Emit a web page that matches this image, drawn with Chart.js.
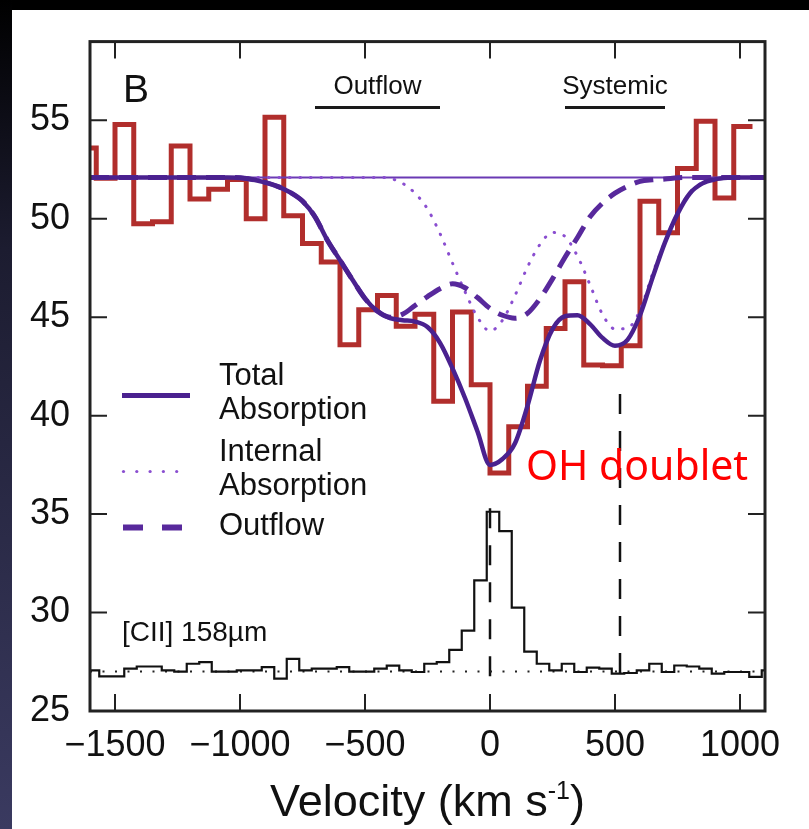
<!DOCTYPE html>
<html lang="en">
<head>
<meta charset="UTF-8" />
<title>OH doublet</title>
<script src="https://cdn.jsdelivr.net/npm/chart.js@4"></script>
<style>
  html, body { margin: 0; padding: 0; background: #fff; }
  .quadro { position: relative; width: 809px; height: 829px; overflow: hidden; background: #fff; }
  .topo { position: absolute; left: 0; top: 0; width: 809px; height: 10px; background: #000; }
  .lado { position: absolute; left: 0; top: 0; width: 12px; height: 829px; background: linear-gradient(#000, #1c1c30 30%, #3a3a60); }
  canvas { position: absolute; left: 0; top: 0; }
</style>
</head>
<body>
<div class="quadro">
  <canvas id="grafico" width="809" height="829"></canvas>
  <div class="topo"></div>
  <div class="lado"></div>
</div>
<script>
// OH absorption histogram (75 km/s bins, first bin starts at -1650)
const redStart = -1650;
const redWidth = 75;
const redValues = [53.6, 52.06, 54.79, 49.75, 49.85, 53.7, 51.0, 51.5, 52.0, 50.0,
  55.16, 50.15, 48.75, 47.8, 43.6, 45.38, 46.1, 44.54, 45.15, 40.73,
  45.27, 41.57, 37.09, 39.44, 41.5, 44.43, 46.8, 42.58, 42.53, 43.55,
  50.89, 49.29, 52.56, 54.96, 51.05, 54.69];

// [CII] spectrum (50 km/s bins, first bin starts at -1613)
const ciiStart = -1613;
const ciiWidth = 50;
const ciiValues = [27.06, 26.76, 26.76, 27.15, 27.26, 27.26, 27.06, 27.0, 27.4, 27.48,
  27.0, 27.0, 27.06, 27.06, 27.23, 26.64, 27.65, 27.06, 27.15, 27.15,
  27.23, 27.0, 27.0, 27.15, 27.3, 27.06, 26.98, 27.4, 27.48, 28.1,
  29.08, 31.63, 35.12, 34.14, 30.25, 28.02, 27.4, 27.06, 27.4, 26.98,
  27.2, 27.15, 26.9, 26.93, 27.06, 27.4, 26.98, 27.31, 27.26, 27.15,
  26.9, 26.98, 26.98, 26.73, 27.06];

// model curves
const velocity = [-1600, -1100, -1050, -1000, -950, -900, -850, -800, -750, -700,
  -650, -600, -550, -500, -450, -400, -350, -300, -250, -200,
  -150, -100, -50, 0, 50, 100, 150, 200, 250, 300,
  350, 400, 450, 500, 550, 600, 650, 700, 750, 800,
  850, 900, 950, 1000, 1050, 1100];
const totalAbs = [52.1, 52.1, 52.1, 52.08, 52.0, 51.85, 51.65, 51.35, 50.9, 50.1,
  48.9, 47.9, 46.9, 45.95, 45.3, 44.95, 44.85, 44.78, 44.5, 43.7,
  42.4, 40.9, 39.2, 37.5, 37.8, 38.6, 40.5, 42.8, 44.4, 45.05,
  45.1, 44.65, 43.95, 43.55, 43.85, 45.1, 47.0, 48.8, 50.25, 51.3,
  51.8, 52.0, 52.08, 52.1, 52.1, 52.1];
const internalAbs = [52.1, 52.1, 52.1, 52.1, 52.1, 52.1, 52.1, 52.1, 52.1, 52.1,
  52.1, 52.1, 52.1, 52.1, 52.1, 52.05, 51.8, 51.3, 50.5, 49.25,
  47.75, 46.3, 45.0, 44.3, 44.85, 46.1, 47.55, 48.7, 49.3, 49.1,
  48.1, 46.65, 45.15, 44.4, 44.45, 45.35, 47.2, 48.85, 50.3, 51.35,
  51.85, 52.02, 52.08, 52.1, 52.1, 52.1];
const outflowAbs = [52.1, 52.1, 52.1, 52.08, 52.0, 51.85, 51.65, 51.35, 50.9, 50.1,
  48.9, 47.9, 46.9, 45.95, 45.3, 45.0, 45.15, 45.6, 46.05, 46.45,
  46.7, 46.5, 46.0, 45.45, 45.1, 44.95, 45.2, 45.95, 46.95, 48.05,
  49.05, 50.1, 50.8, 51.3, 51.65, 51.9, 51.98, 52.02, 52.08, 52.1,
  52.1, 52.1, 52.1, 52.1, 52.1, 52.1];

const continuum = 52.1;
const ciiBase = 27.0;
const doubletLines = [0, 520];
const doubletTops = [35.3, 41.1];
const doubletBottom = 26.75;
const bandLabels = ['Outflow', 'Systemic'];
const bandRanges = [[-700, -200], [300, 700]];
const bandLevel = 55.65;
const xTicks = [-1500, -1000, -500, 0, 500, 1000];
const yTicks = [25, 30, 35, 40, 45, 50, 55];

const corVermelho = '#b12e2c';
const corTotal = '#4a218f';
const corInterno = '#8a4ed0';
const corOutflow = '#58299c';
const fonte = '"Liberation Sans", Arial, sans-serif';

function degraus(inicio, largura, valores) {
  const pts = valores.map((v, i) => ({ x: inicio + i * largura, y: v }));
  pts.push({ x: inicio + valores.length * largura, y: valores[valores.length - 1] });
  return pts;
}
function curva(ys) {
  return velocity.map((v, i) => ({ x: v, y: ys[i] }));
}

const datasets = [
  { label: 'Total', data: curva(totalAbs), borderColor: corTotal, borderWidth: 4.5,
    cubicInterpolationMode: 'monotone', order: 1 },
  { label: 'Internal', data: curva(internalAbs), borderColor: corInterno, borderWidth: 3,
    borderDash: [0.5, 10], borderCapStyle: 'round', cubicInterpolationMode: 'monotone', order: 3 },
  { label: 'Outflow', data: curva(outflowAbs), borderColor: corOutflow, borderWidth: 5,
    borderDash: [19, 10], cubicInterpolationMode: 'monotone', order: 2 },
  { label: 'cont', data: [{ x: -1600, y: continuum }, { x: 1100, y: continuum }],
    borderColor: '#6a3ab4', borderWidth: 2, order: 4 },
  { label: 'OH', data: degraus(redStart, redWidth, redValues), borderColor: corVermelho,
    borderWidth: 5, stepped: 'before', order: 5 },
  { label: 'CII', data: degraus(ciiStart, ciiWidth, ciiValues), borderColor: '#111',
    borderWidth: 2.2, stepped: 'before', order: 6 },
  { label: 'base', data: [{ x: -1600, y: ciiBase }, { x: 1100, y: ciiBase }],
    borderColor: '#222', borderWidth: 2, borderDash: [2, 10.5], order: 7 }
];
doubletLines.forEach((v, i) => {
  datasets.push({ label: 'doublet' + i, data: [{ x: v, y: doubletTops[i] }, { x: v, y: doubletBottom }],
    borderColor: '#111', borderWidth: 2.5, borderDash: [20, 17], order: 8 });
});
bandRanges.forEach((r, i) => {
  datasets.push({ label: 'band' + i, data: [{ x: r[0], y: bandLevel }, { x: r[1], y: bandLevel }],
    borderColor: '#1a1a1a', borderWidth: 3, order: 9 });
});

const moldura = {
  id: 'moldura',
  afterDraw(chart) {
    const { ctx, chartArea: a, scales: { x, y } } = chart;
    ctx.save();
    ctx.strokeStyle = '#222';
    ctx.lineWidth = 2;
    const t = 17;
    xTicks.forEach(v => {
      const px = x.getPixelForValue(v);
      ctx.beginPath();
      ctx.moveTo(px, a.bottom); ctx.lineTo(px, a.bottom - t);
      ctx.moveTo(px, a.top); ctx.lineTo(px, a.top + t);
      ctx.stroke();
    });
    yTicks.forEach(v => {
      const py = y.getPixelForValue(v);
      ctx.beginPath();
      ctx.moveTo(a.left, py); ctx.lineTo(a.left + t, py);
      ctx.moveTo(a.right, py); ctx.lineTo(a.right - t, py);
      ctx.stroke();
    });
    ctx.lineWidth = 3;
    ctx.strokeRect(a.left, a.top, a.right - a.left, a.bottom - a.top);

    // textos
    ctx.fillStyle = '#111';
    ctx.textBaseline = 'middle';
    ctx.textAlign = 'left';
    ctx.font = '39px ' + fonte;
    ctx.fillText('B', a.left + 33, a.top + 50);

    ctx.textAlign = 'center';
    ctx.font = '26px ' + fonte;
    bandRanges.forEach((r, i) => {
      ctx.fillText(bandLabels[i], x.getPixelForValue((r[0] + r[1]) / 2), y.getPixelForValue(bandLevel) - 21);
    });

    ctx.textAlign = 'left';
    ctx.font = '28px ' + fonte;
    ctx.fillText('[CII] 158\u00b5m', a.left + 32, 633);

    // legenda
    ctx.font = '31px ' + fonte;
    ctx.fillText('Total', 219, 376);
    ctx.fillText('Absorption', 219, 410);
    ctx.fillText('Internal', 219, 452);
    ctx.fillText('Absorption', 219, 486);
    ctx.fillText('Outflow', 219, 526);

    ctx.strokeStyle = corTotal;
    ctx.lineWidth = 5;
    ctx.beginPath(); ctx.moveTo(122, 395.5); ctx.lineTo(190, 395.5); ctx.stroke();
    ctx.fillStyle = corInterno;
    for (let k = 0; k < 5; k++) {
      ctx.beginPath(); ctx.arc(123.5 + k * 13.3, 471.5, 1.6, 0, Math.PI * 2); ctx.fill();
    }
    ctx.strokeStyle = corOutflow;
    ctx.lineWidth = 6;
    ctx.beginPath();
    ctx.moveTo(123, 527.5); ctx.lineTo(143, 527.5);
    ctx.moveTo(162, 527.5); ctx.lineTo(182, 527.5);
    ctx.stroke();

    // anotacao vermelha
    ctx.fillStyle = '#ff0000';
    ctx.font = '41px "Noto Sans", sans-serif';
    ctx.fillText('OH doublet', 526, 468);

    // titulo do eixo x com expoente
    ctx.fillStyle = '#111';
    ctx.textBaseline = 'alphabetic';
    const grande = '45px ' + fonte, pequeno = '25px ' + fonte;
    ctx.font = grande;
    const p1 = 'Velocity (km s', p3 = ')';
    const w1 = ctx.measureText(p1).width, w3 = ctx.measureText(p3).width;
    ctx.font = pequeno;
    const w2 = ctx.measureText('-1').width;
    let sx = (a.left + a.right) / 2 - (w1 + w2 + w3) / 2;
    const base = 816;
    ctx.font = grande; ctx.fillText(p1, sx, base);
    ctx.font = pequeno; ctx.fillText('-1', sx + w1, base - 17);
    ctx.font = grande; ctx.fillText(p3, sx + w1 + w2, base);
    ctx.restore();
  }
};

new Chart(document.getElementById('grafico'), {
  type: 'line',
  data: { datasets: datasets },
  options: {
    responsive: false,
    animation: false,
    layout: { padding: { top: 35, right: 44, left: 0, bottom: 0 } },
    elements: { point: { radius: 0 }, line: { tension: 0 } },
    plugins: { legend: { display: false }, tooltip: { enabled: false } },
    scales: {
      x: {
        type: 'linear', min: -1600, max: 1100,
        afterFit: s => { s.height = 118; },
        afterBuildTicks: s => { s.ticks = xTicks.map(v => ({ value: v })); },
        grid: { display: false, drawTicks: false },
        border: { display: false },
        ticks: {
          padding: 13, color: '#111', maxRotation: 0, autoSkip: false,
          font: { family: fonte, size: 36 },
          callback: v => String(v).replace('-', '\u2212')
        }
      },
      y: {
        type: 'linear', min: 25, max: 59,
        afterFit: s => { s.width = 90; },
        afterBuildTicks: s => { s.ticks = yTicks.map(v => ({ value: v })); },
        grid: { display: false, drawTicks: false },
        border: { display: false },
        ticks: { padding: 20, color: '#111', font: { family: fonte, size: 36 } }
      }
    }
  },
  plugins: [moldura]
});
</script>
</body>
</html>
